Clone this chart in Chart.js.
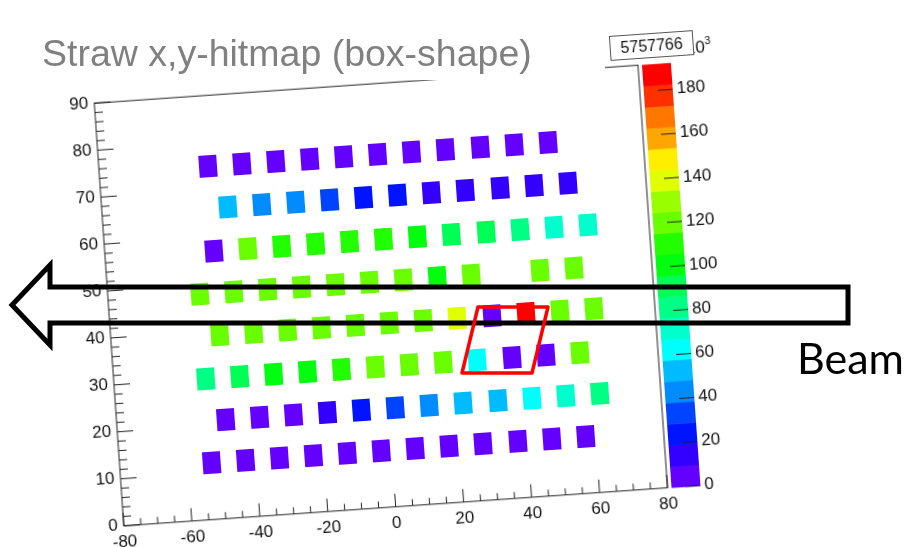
<!DOCTYPE html>
<html>
<head>
<meta charset="utf-8">
<script src="https://cdn.jsdelivr.net/npm/chart.js@4.4.1/dist/chart.umd.min.js"></script>
<style>
  body { margin: 0; background: #fff; width: 907px; height: 547px; overflow: hidden; position: relative; }
  #wrap { position: absolute; left: 63.5px; top: 54.5px; width: 700px; height: 518px;
          transform-origin: 60px 473px; transform: rotate(-4deg); }
  #over { position: absolute; left: 0; top: 0; }
</style>
</head>
<body>
<div id="wrap"><canvas id="hitmap" width="700" height="518"></canvas></div>
<svg id="over" width="907" height="547">
  <rect x="0" y="0" width="605" height="80" fill="#fff"/>
  <text x="42" y="66" font-family="'Liberation Sans', Arial, sans-serif" font-size="37.5" fill="#808080">Straw x,y-hitmap (box-shape)</text>
  <path d="M848 287 L50 287 L50 265 L12 305 L50 345 L50 323 L848 323 Z" fill="none" stroke="#000" stroke-width="5" stroke-linejoin="miter"/>
  <path d="M478 307 L548 307 L532 373 L462 373 Z" fill="none" stroke="#f00" stroke-width="3.5" stroke-linejoin="round"/>
  <text x="797" y="374" font-family="Lato, 'Open Sans', sans-serif" font-size="43" fill="#000">Beam</text>
</svg>
<script>
  /* straw rows: y position, x positions, hit counts (x10^3) */
  const rowY = [75, 66, 57, 48, 39, 30, 21, 12];
  const rowX = [
    [-48, -38, -28, -18, -8, 2, 12, 22, 32, 42, 52],
    [-43, -33, -23, -13, -3, 7, 17, 27, 37, 47, 57],
    [-48, -38, -28, -18, -8, 2, 12, 22, 32, 42, 52, 62],
    [-53, -43, -33, -23, -13, -3, 7, 17, 27, 37, 47, 57],
    [-48, -38, -28, -18, -8, 2, 12, 22, 32, 42, 52, 62],
    [-53, -43, -33, -23, -13, -3, 7, 17, 27, 37, 47, 57],
    [-48, -38, -28, -18, -8, 2, 12, 22, 32, 42, 52, 62],
    [-53, -43, -33, -23, -13, -3, 7, 17, 27, 37, 47, 57]
  ];
  const rowVal = [
    [6, 5, 6, 5, 6, 5, 6, 5, 6, 5, 6],
    [54, 44, 43, 34, 24, 23, 15, 14, 15, 14, 15],
    [6, 118, 110, 109, 108, 107, 101, 93, 91, 84, 72, 71],
    [120, 119, 118, 118, 117, 118, 116, 103, 119, 0, 121, 120],
    [119, 120, 119, 121, 120, 119, 120, 138, 5, 191, 122, 121],
    [85, 90, 99, 101, 108, 116, 118, 119, 63, 5, 7, 120],
    [6, 6, 7, 15, 24, 34, 44, 52, 55, 63, 72, 83],
    [5, 6, 5, 6, 5, 6, 5, 6, 5, 6, 5, 6]
  ];
  const zMax = 192;
  const nLevels = 20;
  const zTickStep = 20;
  const entries = '5757766';

  // ROOT "pretty" palette: 50 colours, hue 280 -> 0
  function levelColor(i) {
    const idx = Math.floor((i + 0.99) * 50 / nLevels);
    const hue = 280 - (idx + 1) * 280 / 50;
    return `hsl(${hue},100%,50%)`;
  }
  function valueColor(v) {
    return levelColor(Math.min(nLevels - 1, Math.floor(v / zMax * nLevels)));
  }
  const boxCache = {};
  function boxImg(col) {
    if (!boxCache[col]) {
      const c = document.createElement('canvas');
      c.width = 18; c.height = 22;
      const g = c.getContext('2d');
      g.fillStyle = col;
      g.fillRect(0, 0, 18, 22);
      boxCache[col] = c;
    }
    return boxCache[col];
  }

  const datasets = rowY.map((y, r) => {
    const pts = [], styles = [];
    rowX[r].forEach((x, i) => {
      const v = rowVal[r][i];
      if (v <= 0) return;
      pts.push({ x: x, y: y });
      styles.push(boxImg(valueColor(v)));
    });
    return { data: pts, pointStyle: styles, pointRadius: 10, pointHoverRadius: 10 };
  });

  Chart.defaults.font.family = "'Liberation Sans', Arial, sans-serif";
  Chart.defaults.font.size = 17;
  Chart.defaults.color = '#111';

  const framePlugin = {
    id: 'frame',
    afterDraw(chart) {
      const { ctx, chartArea: a, scales: { x, y, z } } = chart;
      ctx.save();
      ctx.strokeStyle = '#222';
      ctx.lineWidth = 1;
      ctx.strokeRect(a.left, a.top, a.right - a.left, a.bottom - a.top);
      ctx.beginPath();
      for (let v = -80; v <= 80; v += 5) {
        const px = x.getPixelForValue(v);
        const len = v % 20 === 0 ? 13 : 6.5;
        ctx.moveTo(px, a.bottom); ctx.lineTo(px, a.bottom - len);
      }
      for (let v = 0; v <= 90; v += 2) {
        const py = y.getPixelForValue(v);
        const len = v % 10 === 0 ? 16 : 8;
        ctx.moveTo(a.left, py); ctx.lineTo(a.left + len, py);
      }
      ctx.stroke();

      // colour palette
      const px0 = a.right + 4, pw = 29;
      for (let i = 0; i < nLevels; i++) {
        const yb = z.getPixelForValue(i * zMax / nLevels);
        const yt = z.getPixelForValue((i + 1) * zMax / nLevels);
        ctx.fillStyle = levelColor(i);
        ctx.fillRect(px0, yt, pw, yb - yt + 0.5);
      }
      ctx.beginPath();
      for (let v = 0; v < zMax; v += zTickStep) {
        const py = z.getPixelForValue(v);
        ctx.moveTo(px0 + pw - 15, py); ctx.lineTo(px0 + pw, py);
      }
      ctx.stroke();

      // axis exponent and entries box
      ctx.fillStyle = '#111';
      ctx.font = "17px 'Liberation Sans', Arial, sans-serif";
      ctx.textAlign = 'left';
      ctx.textBaseline = 'alphabetic';
      ctx.fillText('10', 654, 39);
      ctx.font = "11px 'Liberation Sans', Arial, sans-serif";
      ctx.fillText('3', 673, 31);
      ctx.fillStyle = '#fff';
      ctx.fillRect(578, 16, 83, 24);
      ctx.strokeStyle = '#555';
      ctx.strokeRect(578.5, 16.5, 83, 24);
      ctx.fillStyle = '#111';
      ctx.font = "16px 'Liberation Sans', Arial, sans-serif";
      ctx.textAlign = 'center';
      ctx.fillText(entries, 620, 34);
      ctx.restore();
    }
  };

  new Chart(document.getElementById('hitmap'), {
    type: 'scatter',
    data: { datasets },
    options: {
      responsive: false,
      devicePixelRatio: 1,
      animation: false,
      layout: { padding: { left: 10, right: 10, top: 40, bottom: 5 } },
      plugins: { legend: { display: false }, tooltip: { enabled: false } },
      scales: {
        x: {
          type: 'linear', min: -80, max: 80,
          grid: { display: false, drawTicks: false }, border: { display: false },
          ticks: { stepSize: 20, autoSkip: false, maxRotation: 0, padding: 6 },
          afterFit: s => { s.height = 40; }
        },
        y: {
          type: 'linear', min: 0, max: 90,
          grid: { display: false, drawTicks: false }, border: { display: false },
          ticks: { stepSize: 10, autoSkip: false, padding: 6 },
          afterFit: s => { s.width = 50; }
        },
        z: {
          type: 'linear', position: 'right', min: 0, max: zMax,
          grid: { display: false, drawTicks: false }, border: { display: false },
          ticks: { stepSize: zTickStep, includeBounds: false, autoSkip: false, padding: 37 },
          afterFit: s => { s.width = 85; }
        }
      }
    },
    plugins: [framePlugin]
  });
</script>
</body>
</html>
